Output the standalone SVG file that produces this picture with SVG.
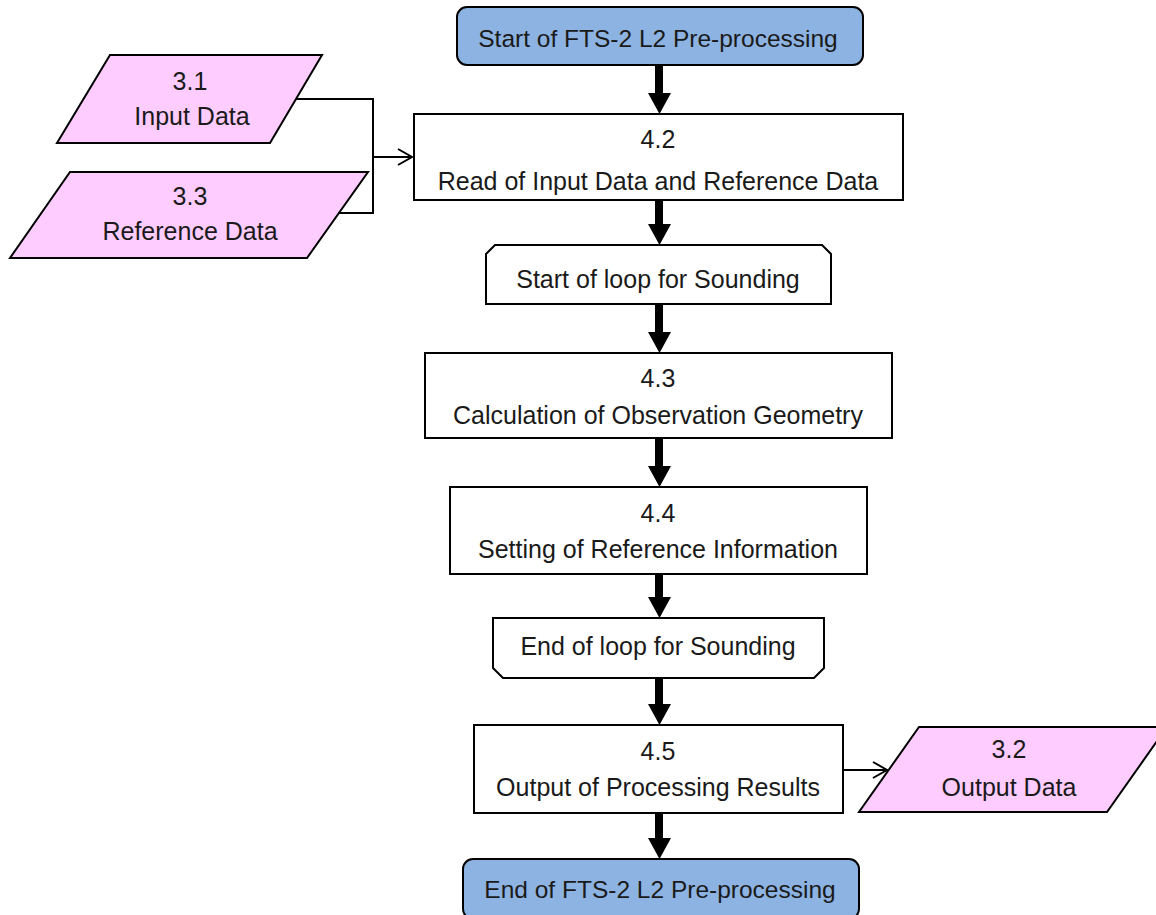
<svg xmlns="http://www.w3.org/2000/svg" width="1156" height="915" viewBox="0 0 1156 915">
<style>
  .box{fill:#fff;stroke:#000;stroke-width:2}
  .term{fill:#8DB3E2;stroke:#000;stroke-width:2}
  .io{fill:#FFCCFF;stroke:#000;stroke-width:2}
  text{font-family:"Liberation Sans",Arial,sans-serif;font-size:25px;fill:#1a1a1a;text-anchor:middle}
  .t{font-size:24.5px}
  .thin{fill:none;stroke:#000;stroke-width:2}
  .thick{fill:#000;stroke:none}
</style>
<rect width="1156" height="915" fill="#fff"/>
<g id="start">
  <rect class="term" x="457" y="7" width="406" height="58" rx="10"/>
  <text class="t" x="658" y="47">Start of FTS-2 L2 Pre-processing</text>
</g>
<g id="in31">
  <polygon class="io" points="110,55 322,55 270,143 57,143"/>
  <text x="190" y="90">3.1</text>
  <text x="192" y="125">Input Data</text>
</g>
<g id="ref33">
  <polygon class="io" points="70,172 368,172 307,258 10,258"/>
  <text x="190" y="205">3.3</text>
  <text x="190" y="240">Reference Data</text>
</g>
<g id="n42">
  <rect class="box" x="414" y="114" width="489" height="86"/>
  <text x="658" y="148">4.2</text>
  <text x="658" y="190">Read of Input Data and Reference Data</text>
</g>
<g id="loopstart">
  <polygon class="box" points="486,254 495,245 822,245 831,254 831,304 486,304"/>
  <text x="658" y="288">Start of loop for Sounding</text>
</g>
<g id="n43">
  <rect class="box" x="425" y="353" width="467" height="85"/>
  <text x="658" y="387">4.3</text>
  <text x="658" y="424">Calculation of Observation Geometry</text>
</g>
<g id="n44">
  <rect class="box" x="450" y="487" width="417" height="87"/>
  <text x="658" y="522">4.4</text>
  <text x="658" y="558">Setting of Reference Information</text>
</g>
<g id="loopend">
  <polygon class="box" points="493,618 824,618 824,668 814,678 503,678 493,668"/>
  <text x="658" y="655">End of loop for Sounding</text>
</g>
<g id="n45">
  <rect class="box" x="474" y="725" width="369" height="88"/>
  <text x="658" y="760">4.5</text>
  <text x="658" y="796">Output of Processing Results</text>
</g>
<g id="out32">
  <polygon class="io" points="919,727 1167,727 1107,812 859,812"/>
  <text x="1009" y="758">3.2</text>
  <text x="1009" y="796">Output Data</text>
</g>
<g id="end">
  <rect class="term" x="463" y="859" width="396" height="60" rx="10"/>
  <text class="t" x="660" y="898">End of FTS-2 L2 Pre-processing</text>
</g>
<g id="connectors">
  <path class="thick" d="M655,65 H663 V93 H671 L659.5,114 L648,93 H655 Z"/>
  <path class="thick" d="M655,200 H663 V224 H671 L659.5,245 L648,224 H655 Z"/>
  <path class="thick" d="M655,304 H663 V332 H671 L659.5,353 L648,332 H655 Z"/>
  <path class="thick" d="M655,438 H663 V466 H671 L659.5,487 L648,466 H655 Z"/>
  <path class="thick" d="M655,574 H663 V597 H671 L659.5,618 L648,597 H655 Z"/>
  <path class="thick" d="M655,678 H663 V704 H671 L659.5,725 L648,704 H655 Z"/>
  <path class="thick" d="M655,813 H663 V838 H671 L659.5,859 L648,838 H655 Z"/>
  <path class="thin" d="M296,99 H373 V213 H338"/>
  <path class="thin" d="M373,157 H412"/>
  <path class="thin" d="M398,149 L412,157 L398,165"/>
  <path class="thin" d="M843,770 H887"/>
  <path class="thin" d="M873,762 L887,770 L873,778"/>
</g>
</svg>
